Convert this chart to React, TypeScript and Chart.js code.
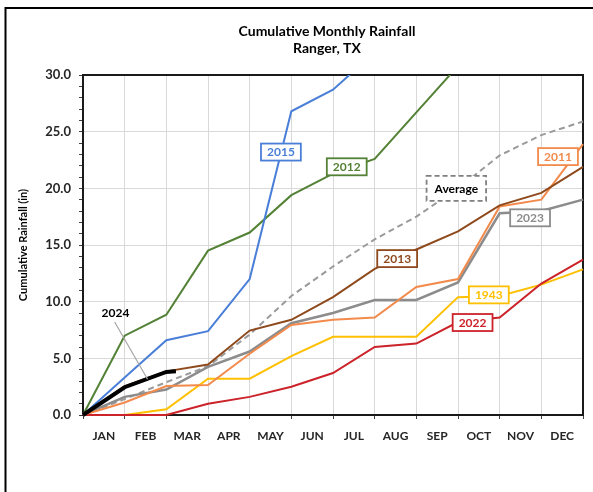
import React, { useEffect, useRef } from 'react';
import { Chart, registerables } from 'chart.js';

Chart.register(...registerables);

// ---------- data ----------
const MONTHS = ['JAN', 'FEB', 'MAR', 'APR', 'MAY', 'JUN', 'JUL', 'AUG', 'SEP', 'OCT', 'NOV', 'DEC'];
// month-end positions (0 = start of year, 12 = end of December)
const STEPS = [0, 1, 2, 3, 4, 5, 6, 7, 8, 9, 10, 11, 12];
const Y_TICKS = [0, 1, 2, 3, 4, 5, 6, 7, 8, 9, 10, 11, 12, 13, 14, 15, 16, 17, 18, 19, 20, 21, 22, 23, 24, 25, 26, 27, 28, 29, 30];

const R2012 = [0, 7.0, 8.85, 14.5, 16.1, 19.4, 21.3, 22.6, 26.7, 30.8, null, null, null];
const R2015 = [0, 3.3, 6.6, 7.4, 12.0, 26.8, 28.7, 32.0, null, null, null, null, null];
const RAVG = [0, 1.4, 2.9, 4.3, 7.1, 10.5, 13.1, 15.5, 17.5, 20.0, 22.9, 24.7, 25.9];
const R2011 = [0, 1.1, 2.55, 2.65, 5.4, 7.95, 8.4, 8.6, 11.3, 12.0, 18.4, 19.0, 23.9];
const R2013 = [0, 2.55, 3.85, 4.45, 7.45, 8.4, 10.4, 12.9, 14.6, 16.2, 18.5, 19.6, 21.9];
const R2023 = [0, 1.6, 2.25, 4.25, 5.6, 8.1, 9.0, 10.15, 10.15, 11.7, 17.8, 18.0, 19.0];
const R1943 = [0, 0, 0.5, 3.2, 3.2, 5.2, 6.9, 6.9, 6.9, 10.4, 10.5, 11.5, 12.85];
const R2022 = [0, 0, 0, 1.0, 1.6, 2.5, 3.7, 6.0, 6.3, 8.2, 8.6, 11.6, 13.7];
const X2024 = [0, 1, 2, 2.23];
const R2024 = [0, 2.45, 3.8, 3.87];

// ---------- styles ----------
const C = {
  y2012: '#538135',
  y2015: '#4A7FD8',
  avg: '#9A9A9A',
  y2011: '#F28A4C',
  y2013: '#8E4A1C',
  y2023: '#8C8C8C',
  y1943: '#FFC000',
  y2022: '#CC2229',
  y2024: '#000000',
};

// label boxes anchored in data units (month position, inches)
const LABELS = [
  { text: '2015', x: 4.75, y: 23.2, color: C.y2015, textColor: C.y2015, dashed: false },
  { text: '2012', x: 6.33, y: 21.9, color: C.y2012, textColor: C.y2012, dashed: false },
  { text: 'Average', x: 8.96, y: 20.0, color: '#808080', textColor: '#000000', dashed: true },
  { text: '2011', x: 11.4, y: 22.8, color: C.y2011, textColor: C.y2011, dashed: false },
  { text: '2023', x: 10.73, y: 17.4, color: C.y2023, textColor: C.y2023, dashed: false },
  { text: '2013', x: 7.54, y: 13.8, color: C.y2013, textColor: C.y2013, dashed: false },
  { text: '1943', x: 9.74, y: 10.6, color: C.y1943, textColor: C.y1943, dashed: false },
  { text: '2022', x: 9.35, y: 8.16, color: C.y2022, textColor: C.y2022, dashed: false },
];

const FONT = 'Lato, "Open Sans", sans-serif';

const decor = {
  id: 'decor',
  beforeDraw(chart: any) {
    const { ctx, width, height } = chart;
    ctx.save();
    ctx.fillStyle = '#ffffff';
    ctx.fillRect(0, 0, width, height);
    ctx.restore();
  },
  beforeDatasetsDraw(chart: any) {
    const { ctx, chartArea: a } = chart;
    ctx.save();
    ctx.strokeStyle = '#1a1a1a';
    ctx.lineWidth = 2;
    ctx.strokeRect(a.left, a.top, a.right - a.left, a.bottom - a.top);
    ctx.restore();
  },
  afterDatasetsDraw(chart: any) {
    const { ctx, scales } = chart;
    const xs = scales.x;
    const ys = scales.y;
    ctx.save();
    // 2024 leader + text
    ctx.strokeStyle = '#A6A6A6';
    ctx.lineWidth = 1.2;
    ctx.beginPath();
    ctx.moveTo(xs.getPixelForValue(0.76), ys.getPixelForValue(8.2));
    ctx.lineTo(xs.getPixelForValue(1.55), ys.getPixelForValue(3.15));
    ctx.stroke();
    ctx.fillStyle = '#000';
    ctx.font = `bold 12px ${FONT}`;
    ctx.textAlign = 'center';
    ctx.textBaseline = 'middle';
    ctx.fillText('2024', xs.getPixelForValue(0.78), ys.getPixelForValue(8.97));

    // boxed labels
    for (const l of LABELS) {
      const cx = xs.getPixelForValue(l.x);
      const cy = ys.getPixelForValue(l.y);
      ctx.font = `bold 12px ${FONT}`;
      const w = ctx.measureText(l.text).width + (l.dashed ? 16 : 12);
      const h = l.dashed ? 25 : 17;
      ctx.fillStyle = '#ffffff';
      ctx.fillRect(cx - w / 2, cy - h / 2, w, h);
      ctx.strokeStyle = l.color;
      ctx.lineWidth = 1.8;
      ctx.setLineDash(l.dashed ? [5, 3] : []);
      ctx.strokeRect(cx - w / 2, cy - h / 2, w, h);
      ctx.setLineDash([]);
      ctx.fillStyle = l.textColor;
      ctx.fillText(l.text, cx, cy + 0.5);
    }
    ctx.restore();
  },
  afterDraw(chart: any) {
    const { ctx, width, height } = chart;
    ctx.save();
    ctx.fillStyle = '#000';
    ctx.textAlign = 'center';
    ctx.textBaseline = 'middle';
    ctx.font = `bold 14px ${FONT}`;
    ctx.fillText('Cumulative Monthly Rainfall', 327, 31);
    ctx.fillText('Ranger, TX', 327, 48);
    // outer frame (left and top edges)
    ctx.strokeStyle = '#000';
    ctx.lineWidth = 2;
    ctx.beginPath();
    ctx.moveTo(5.5, height);
    ctx.lineTo(5.5, 8);
    ctx.lineTo(width, 8);
    ctx.stroke();
    ctx.restore();
  },
};

function series(label: string, values: (number | null)[], color: string, width: number, dash: number[] = []) {
  return {
    label,
    data: values.map((v, i) => ({ x: STEPS[i], y: v })),
    borderColor: color,
    backgroundColor: color,
    borderWidth: width,
    borderDash: dash,
    pointRadius: 0,
    tension: 0,
    fill: false,
    spanGaps: false,
    clip: { left: 3, top: 0, right: 3, bottom: 3 },
  };
}

export default function App() {
  const ref = useRef<HTMLCanvasElement | null>(null);

  useEffect(() => {
    if (!ref.current) return;
    const halfSteps = MONTHS.flatMap((_, i) => [i, i + 0.5]).concat([12]);
    const chart = new Chart(ref.current, {
      type: 'line',
      data: {
        datasets: [
          {
            ...series('2024', R2024, C.y2024, 4),
            data: R2024.map((v, i) => ({ x: X2024[i], y: v })),
          },
          series('2013', R2013, C.y2013, 2),
          series('2011', R2011, C.y2011, 2),
          series('2023', R2023, C.y2023, 2.5),
          series('Average', RAVG, C.avg, 2, [6, 4]),
          series('2022', R2022, C.y2022, 2),
          series('1943', R1943, C.y1943, 2),
          series('2015', R2015, C.y2015, 2),
          series('2012', R2012, C.y2012, 2),
        ] as any,
      },
      options: {
        animation: false,
        responsive: false,
        layout: { padding: { top: 75, right: 5, bottom: 37, left: 0 } },
        plugins: {
          legend: { display: false },
          tooltip: { enabled: false },
          title: { display: false },
        },
        scales: {
          x: {
            type: 'linear',
            min: 0,
            max: 12,
            afterBuildTicks: (s: any) => {
              s.ticks = halfSteps.map((v) => ({ value: v }));
            },
            afterFit: (s: any) => {
              s.height = 40;
            },
            ticks: {
              autoSkip: false,
              maxRotation: 0,
              padding: 10,
              color: '#262626',
              font: { family: FONT, weight: 'bold', size: 12 },
              callback: (v: any) => (Number.isInteger(v) ? '' : MONTHS[Math.floor(v)]),
            },
            grid: {
              color: (c: any) => (c.tick && Number.isInteger(c.tick.value) ? '#D9D9D9' : 'rgba(0,0,0,0)'),
              tickColor: (c: any) => (c.tick && Number.isInteger(c.tick.value) ? '#404040' : 'rgba(0,0,0,0)'),
              tickLength: 4,
              lineWidth: 1,
            },
            border: { display: true, color: '#1a1a1a', width: 2 },
          },
          y: {
            type: 'linear',
            min: 0,
            max: 30,
            afterBuildTicks: (s: any) => {
              s.ticks = Y_TICKS.map((v) => ({ value: v }));
            },
            afterFit: (s: any) => {
              s.width = 83;
            },
            ticks: {
              autoSkip: false,
              padding: 8,
              color: '#262626',
              font: { family: FONT, weight: 'bold', size: 13 },
              callback: (v: any) => (v % 5 === 0 ? Number(v).toFixed(1) : ''),
            },
            grid: {
              color: (c: any) => (c.tick && c.tick.value % 5 === 0 ? '#D9D9D9' : 'rgba(0,0,0,0)'),
              tickColor: '#404040',
              tickLength: 4,
              lineWidth: 1,
            },
            border: { display: true, color: '#1a1a1a', width: 2 },
            title: {
              display: true,
              text: 'Cumulative Rainfall (in)',
              color: '#000',
              font: { family: FONT, weight: 'bold', size: 11 },
              padding: { top: 17, bottom: 0 },
            },
          },
        },
      },
      plugins: [decor],
    } as any);
    return () => chart.destroy();
  }, []);

  return (
    <div style={{ position: 'absolute', left: 0, top: 0, width: 593, height: 492, background: '#fff' }}>
      <canvas ref={ref} width={593} height={492} style={{ display: 'block' }} />
    </div>
  );
}
